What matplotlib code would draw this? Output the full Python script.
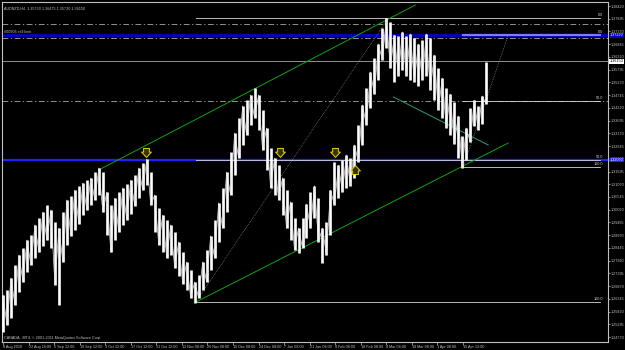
import numpy as np
import matplotlib
matplotlib.use("Agg")
import matplotlib.pyplot as plt
from matplotlib.path import Path

plt.rcParams['font.family'] = ['Liberation Sans', 'DejaVu Sans']

# ---------------- data ----------------
high = [1.2650, 1.2671, 1.2720, 1.2774, 1.2815, 1.2844, 1.2877, 1.2898, 1.2939, 1.2968,
        1.2992, 1.3021, 1.3001, 1.2951, 1.2926, 1.2992, 1.3042, 1.3059, 1.3083, 1.3100,
        1.3112, 1.3124, 1.3133, 1.3157, 1.3174, 1.3157, 1.3075, 1.3021, 1.3050, 1.3075,
        1.3092, 1.3108, 1.3124, 1.3145, 1.3174, 1.3194, 1.3211, 1.3157, 1.3063, 1.3009,
        1.2980, 1.2960, 1.2939, 1.2910, 1.2869, 1.2827, 1.2786, 1.2753, 1.2704, 1.2733,
        1.2786, 1.2836, 1.2894, 1.2960, 1.3030, 1.3092, 1.3157, 1.3240, 1.3318, 1.3380,
        1.3430, 1.3454, 1.3475, 1.3504, 1.3475, 1.3413, 1.3339, 1.3256, 1.3215, 1.3186,
        1.3133, 1.3083, 1.3034, 1.2968, 1.2926, 1.2968, 1.3025, 1.3075, 1.3100, 1.3050,
        1.2926, 1.2951, 1.3083, 1.3199, 1.3186, 1.3207, 1.3228, 1.3215, 1.3269, 1.3352,
        1.3434, 1.3504, 1.3570, 1.3628, 1.3685, 1.3751, 1.3792, 1.3776, 1.3722, 1.3718,
        1.3735, 1.3718, 1.3727, 1.3710, 1.3685, 1.3702, 1.3727, 1.3710, 1.3640, 1.3586,
        1.3545, 1.3504, 1.3479, 1.3446, 1.3388, 1.3306, 1.3339, 1.3421, 1.3454, 1.3430,
        1.3471, 1.3611]
low = [1.2498, 1.2526, 1.2555, 1.2609, 1.2662, 1.2704, 1.2745, 1.2774, 1.2803, 1.2827,
       1.2852, 1.2877, 1.2844, 1.2691, 1.2609, 1.2786, 1.2856, 1.2894, 1.2918, 1.2943,
       1.2980, 1.3001, 1.3021, 1.3042, 1.3063, 1.2992, 1.2898, 1.2827, 1.2877, 1.2910,
       1.2939, 1.2960, 1.2984, 1.3017, 1.3050, 1.3083, 1.3104, 1.3021, 1.2910, 1.2856,
       1.2827, 1.2803, 1.2815, 1.2762, 1.2729, 1.2696, 1.2671, 1.2638, 1.2617, 1.2638,
       1.2671, 1.2704, 1.2753, 1.2803, 1.2869, 1.2926, 1.2992, 1.3063, 1.3145, 1.3215,
       1.3269, 1.3310, 1.3352, 1.3380, 1.3331, 1.3248, 1.3166, 1.3092, 1.3063, 1.3042,
       1.2980, 1.2926, 1.2877, 1.2836, 1.2823, 1.2844, 1.2885, 1.2926, 1.2968, 1.2869,
       1.2782, 1.2815, 1.2898, 1.3021, 1.3050, 1.3075, 1.3092, 1.3100, 1.3133, 1.3199,
       1.3269, 1.3352, 1.3421, 1.3479, 1.3537, 1.3619, 1.3669, 1.3586, 1.3528, 1.3553,
       1.3578, 1.3553, 1.3537, 1.3528, 1.3512, 1.3537, 1.3553, 1.3496, 1.3454, 1.3413,
       1.3380, 1.3339, 1.3310, 1.3273, 1.3215, 1.3174, 1.3207, 1.3281, 1.3347, 1.3331,
       1.3355, 1.3438]
last_price = 1.36150

time_labels = ["8 Aug 2010", "22 Aug 16:00", "5 Sep 12:00", "19 Sep 12:00", "3 Oct 12:00",
               "17 Oct 12:00", "31 Oct 12:00", "12 Nov 08:00", "26 Nov 08:00", "10 Dec 08:00",
               "24 Dec 08:00", "7 Jan 08:00", "21 Jan 08:00", "4 Feb 08:00", "18 Feb 08:00",
               "4 Mar 04:00", "18 Mar 08:00", "1 Apr 08:00", "15 Apr 12:00"]
price_ticks = [1.38420, 1.37895, 1.37370, 1.36845, 1.36320, 1.35795, 1.35270, 1.34745,
               1.34220, 1.33695, 1.33170, 1.32645, 1.32120, 1.31595, 1.31070, 1.30545,
               1.30020, 1.29495, 1.28970, 1.28445, 1.27920, 1.27395, 1.26870, 1.26345,
               1.25820, 1.25295, 1.24770]

# chart objects (bar index, price)
order_price = 1.37220
hline_blue = 1.32070
dashdot_levels = [1.37680, 1.37100, 1.34500]
fib1_start, fib1_end = (48.25, 1.2621), (96.5, 1.3792)
fib2_start, fib2_end = (115.25, 1.3178), (126.5, 1.3722)
fib_levels = [0.0, 50.0, 100.0]
green_upper = [(24.0, 1.3166), (103.25, 1.3846)]
green_lower = [(48.25, 1.2621), (126.5, 1.3277)]
teal_line = [(97.75, 1.3467), (121.5, 1.3269)]
down_arrows = [(35.75, 1.3240), (69.25, 1.3240), (83.25, 1.3240)]
up_arrows = [(88.25, 1.3166)]

# ---------------- figure ----------------
W, H = 625, 350
FS = 2.7
fig = plt.figure(figsize=(W / 100, H / 100), dpi=100, facecolor="black")
ax = fig.add_axes([2 / W, 8 / H, 606 / W, 340 / H], facecolor="black")
XMAX = 151.5
ax.set_xlim(-0.25, XMAX)
ax.set_ylim(1.24566, 1.38585)
GRAY = "#c0c0c0"
for s in ax.spines.values():
    s.set_color(GRAY)
    s.set_linewidth(0.8)

dashdot = (0, (7, 3, 1.5, 3))

# horizontal lines
for lvl in dashdot_levels:
    ax.axhline(lvl, color="#a8a8a8", lw=0.6, ls=dashdot, zorder=1)
ax.axhline(last_price, color="#909090", lw=0.7, zorder=1)
ax.axhline(order_price, color="#0000b4", lw=2.2, zorder=2)
ax.axhline(hline_blue, color="#2020ff", lw=1.6, zorder=2)

# fibonacci
for (xs, ps), (xe, pe) in [(fib1_start, fib1_end), (fib2_start, fib2_end)]:
    for lv in fib_levels:
        p = pe - (pe - ps) * lv / 100.0
        ax.plot([xs, 149.5], [p, p], color="#d8d8d8", lw=0.6, zorder=3)
        ax.text(150.3, p + 0.0003, f"{lv:.1f}", color="#d8d8d8", fontsize=FS,
                ha="right", va="bottom", zorder=5)
    ax.plot([xs, xe], [ps, pe], color="#9a9a9a", lw=0.5, ls=(0, (1, 1.5)), zorder=3)
ax.plot([fib2_start[0], 149.5], [order_price] * 2, color="#7b7bff", lw=1.6, zorder=3)

# trend lines
ax.plot(*zip(*green_upper), color="#14a014", lw=0.7, zorder=3)
ax.plot(*zip(*green_lower), color="#14a014", lw=0.7, zorder=3)
ax.plot(*zip(*teal_line), color="#2e9a82", lw=0.7, zorder=3)

# price bars
idx = np.arange(len(high))
hi = np.array(high)
lo = np.array(low)
ax.vlines(idx, lo, hi, color="white", lw=1.9, zorder=4)
zig = np.where(idx % 2 == 0, hi, lo)
ax.plot(idx, zig, color="#e8e8e8", lw=0.5, zorder=4)

# arrows
arrow = Path([(-0.35, 0.5), (0.35, 0.5), (0.35, 0.05), (0.6, 0.05), (0, -0.6),
              (-0.6, 0.05), (-0.35, 0.05), (-0.35, 0.5)], closed=True)
arrow_up = Path(arrow.vertices * np.array([1, -1]), closed=True)
ax.scatter(*zip(*down_arrows), marker=arrow, s=50, facecolor="#3a3200",
           edgecolor="#e8d800", lw=0.7, zorder=6)
ax.scatter(*zip(*up_arrows), marker=arrow_up, s=50, facecolor="#3a3200",
           edgecolor="#e8d800", lw=0.7, zorder=6)

# axes ticks
ax.yaxis.tick_right()
ax.set_yticks(price_ticks)
ax.set_yticklabels([f"{v:.5f}" for v in price_ticks])
ax.tick_params(axis="y", colors=GRAY, labelsize=FS, length=1.2, width=0.5, pad=0.8)
tpos = [k * 6.4 for k in range(len(time_labels))]
ax.set_xticks(tpos)
ax.set_xticklabels(time_labels, ha="left")
ax.tick_params(axis="x", colors=GRAY, labelsize=FS, length=2, width=0.5, pad=0.5)

# price tags
def tag(p, text, bg, fg):
    ax.text(1.003, p, text, transform=ax.get_yaxis_transform(), fontsize=FS,
            color=fg, va="center", ha="left", zorder=10, clip_on=False,
            bbox=dict(boxstyle="square,pad=0.12", fc=bg, ec="none"))

tag(order_price, f"{order_price:.5f}", "#0000c8", "white")
tag(hline_blue, f"{hline_blue:.5f}", "#2020ff", "white")
tag(last_price, f"{last_price:.5f}", "white", "black")

# texts
fig.text(4 / W, 1 - 9 / H, "AUDNZD,H4  1.35750 1.36475 1.35730 1.36150",
         color=GRAY, fontsize=FS, va="center")
fig.text(4 / W, 1 - 32 / H, "#00906 sell limit", color=GRAY, fontsize=FS, va="center")
fig.text(4 / W, 1 - 338 / H, "CANADA - MT4, \u00a9 2001-2011 MetaQuotes Software Corp.",
         color=GRAY, fontsize=FS, va="center")

fig.savefig("out.png", dpi=100, facecolor="black")
